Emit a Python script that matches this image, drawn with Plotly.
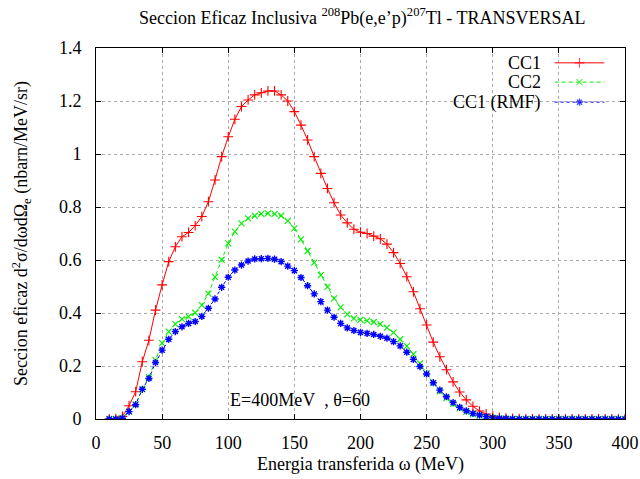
import plotly.graph_objects as go

# Energy transfer grid (MeV)
omega = [10, 15, 20, 25, 30, 35, 40, 45, 50, 55, 60, 65, 70, 75, 80, 85, 90, 95,
         100, 105, 110, 115, 120, 125, 130, 135, 140, 145, 150, 155, 160, 165, 170,
         175, 180, 185, 190, 195, 200, 205, 210, 215, 220, 225, 230, 235, 240, 245,
         250, 255, 260, 265, 270, 275, 280, 285, 290, 295, 300, 305, 310, 315, 320,
         325, 330, 335, 340, 345, 350, 355, 360, 365, 370, 375, 380, 385, 390, 395, 400]

# Transverse inclusive cross sections (nbarn/MeV/sr)
cc1 = [0.000, 0.001, 0.010, 0.050, 0.103, 0.216, 0.297, 0.411, 0.506, 0.594, 0.650,
       0.688, 0.704, 0.730, 0.764, 0.820, 0.902, 0.990, 1.065, 1.131, 1.179, 1.204,
       1.223, 1.231, 1.238, 1.238, 1.223, 1.200, 1.160, 1.109, 1.053, 0.990, 0.927,
       0.870, 0.816, 0.770, 0.740, 0.716, 0.705, 0.700, 0.690, 0.680, 0.660, 0.628,
       0.587, 0.537, 0.480, 0.416, 0.355, 0.290, 0.235, 0.186, 0.140, 0.102, 0.072,
       0.048, 0.030, 0.019, 0.011, 0.006, 0.003, 0.002, 0.001,
       0.000, 0.000, 0.000, 0.000, 0.000, 0.000, 0.000, 0.000, 0.000, 0.000, 0.000,
       0.000, 0.000, 0.000, 0.000, 0.000]

cc2 = [0.000, 0.000, 0.004, 0.028, 0.055, 0.113, 0.158, 0.222, 0.286, 0.330, 0.358,
       0.377, 0.386, 0.401, 0.430, 0.473, 0.536, 0.601, 0.663, 0.707, 0.738, 0.757,
       0.767, 0.774, 0.776, 0.774, 0.767, 0.748, 0.719, 0.678, 0.634, 0.590, 0.543,
       0.499, 0.455, 0.421, 0.395, 0.380, 0.374, 0.371, 0.366, 0.358, 0.345, 0.326,
       0.301, 0.275, 0.245, 0.210, 0.172, 0.135, 0.104, 0.079, 0.057, 0.040, 0.027,
       0.018, 0.012, 0.007, 0.004, 0.002, 0.001, 0.000, 0.000,
       0.000, 0.000, 0.000, 0.000, 0.000, 0.000, 0.000, 0.000, 0.000, 0.000, 0.000,
       0.000, 0.000, 0.000, 0.000, 0.000]

cc1_rmf = [0.000, 0.000, 0.003, 0.028, 0.054, 0.112, 0.153, 0.213, 0.260, 0.301, 0.330,
           0.348, 0.361, 0.368, 0.387, 0.418, 0.453, 0.497, 0.535, 0.562, 0.581, 0.596,
           0.604, 0.605, 0.606, 0.603, 0.594, 0.577, 0.560, 0.534, 0.503, 0.472, 0.443,
           0.411, 0.384, 0.361, 0.344, 0.334, 0.327, 0.323, 0.319, 0.312, 0.305, 0.292,
           0.276, 0.252, 0.225, 0.198, 0.170, 0.137, 0.109, 0.084, 0.062, 0.044, 0.031,
           0.021, 0.015, 0.009, 0.005, 0.003, 0.002, 0.001, 0.000,
           0.000, 0.000, 0.000, 0.000, 0.000, 0.000, 0.000, 0.000, 0.000, 0.000, 0.000,
           0.000, 0.000, 0.000, 0.000, 0.000]

series_names = ["CC1", "CC2", "CC1 (RMF)"]
x_ticks = [0, 50, 100, 150, 200, 250, 300, 350, 400]
y_ticks = [0, 0.2, 0.4, 0.6, 0.8, 1.0, 1.2, 1.4]
y_tick_text = ["0", "0.2", "0.4", "0.6", "0.8", "1", "1.2", "1.4"]

SERIF = "Liberation Serif"
styles = [
    dict(color="#ff0000", dash="solid", symbol="cross-thin-open", size=7, mw=1.1),
    dict(color="#00ee00", dash="4px,3px", symbol="x-thin-open", size=6, mw=1.1),
    dict(color="#0000ff", dash="3px,3px", symbol="asterisk-open", size=6, mw=1.4),
]

fig = go.Figure()
for name, ys, st in zip(series_names, [cc1, cc2, cc1_rmf], styles):
    fig.add_trace(go.Scatter(
        x=omega, y=ys, name=name, mode="lines+markers", showlegend=False,
        line=dict(color=st["color"], width=1, dash=st["dash"]),
        marker=dict(symbol=st["symbol"], size=st["size"],
                    line=dict(color=st["color"], width=st["mw"])),
    ))

# Key: labels right-aligned with the line sample to their right
key_rows = [0.960, 0.908, 0.854]
for name, st, ky in zip(series_names, styles, key_rows):
    fig.add_trace(go.Scatter(
        x=[0.867, 0.914, 0.961], y=[ky, ky, ky], xaxis="x2", yaxis="y2",
        mode="lines+markers", showlegend=False, hoverinfo="skip",
        line=dict(color=st["color"], width=1, dash=st["dash"]),
        marker=dict(symbol=st["symbol"], size=[0, st["size"], 0],
                    line=dict(color=st["color"], width=st["mw"])),
    ))
    fig.add_annotation(xref="paper", yref="paper", x=0.845, y=ky, text=name,
                       showarrow=False, xanchor="right", yanchor="middle",
                       font=dict(family=SERIF, size=18, color="black"))

fig.add_annotation(xref="x", yref="y", x=100, y=0.072,
                   text="E=400MeV\u00a0\u00a0, \u03b8=60", showarrow=False,
                   xanchor="left", yanchor="middle",
                   font=dict(family=SERIF, size=18, color="black"))

axis_common = dict(
    showline=True, linecolor="black", linewidth=1, mirror="ticks",
    ticks="inside", ticklen=5, tickcolor="black", tickwidth=1,
    showgrid=True, gridcolor="#aaaaaa", griddash="dot", gridwidth=1,
    zeroline=False, automargin=False,
    tickfont=dict(family=SERIF, size=18, color="black"),
)

fig.update_layout(
    width=640, height=479,
    margin=dict(l=96, r=15, t=48, b=60),
    paper_bgcolor="white", plot_bgcolor="white",
    font=dict(family=SERIF, color="black"),
    title=dict(
        text="Seccion Eficaz Inclusiva <sup>208</sup>Pb(e,e\u2019p)<sup>207</sup>Tl - TRANSVERSAL",
        x=0.566, xanchor="center", y=0.963, yanchor="middle",
        font=dict(family=SERIF, size=18, color="black"),
    ),
    xaxis=dict(range=[0, 400], tickvals=x_ticks, ticklabelstandoff=7,
               title=dict(text="Energia transferida \u03c9 (MeV)", standoff=5,
                          font=dict(family=SERIF, size=18, color="black")),
               **axis_common),
    yaxis=dict(range=[0, 1.4], tickvals=y_ticks, ticktext=y_tick_text,
               ticklabelstandoff=10,
               title=dict(text="Seccion eficaz d<sup>2</sup>\u03c3/d\u03c9d\u03a9<sub>e</sub> (nbarn/MeV/sr)",
                          standoff=26,
                          font=dict(family=SERIF, size=18, color="black")),
               **axis_common),
    xaxis2=dict(overlaying="x", range=[0, 1], visible=False, fixedrange=True),
    yaxis2=dict(overlaying="y", range=[0, 1], visible=False, fixedrange=True),
)

fig.write_html("out.html")
